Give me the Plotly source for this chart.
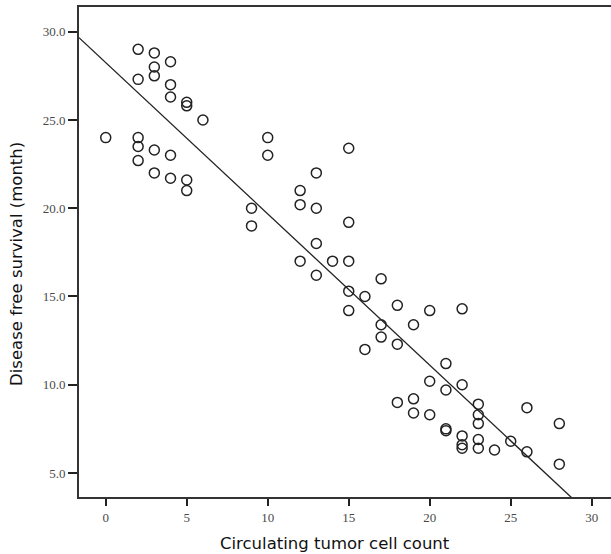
import plotly.graph_objects as go

ctc_count = [2, 3, 4, 3, 2, 3, 4, 4, 5, 5, 6, 0, 2, 2, 3, 4, 2, 3, 4, 5, 5,
             9, 9,
             10, 10, 15, 13, 12, 12, 13, 15, 13, 12, 14, 15, 13, 17, 15, 16, 15, 18, 20, 22, 17, 19, 17, 16, 18,
             21, 20, 22, 21, 18, 19, 23, 26, 19, 20, 23, 23, 28, 21, 21, 22, 22, 22, 23, 23, 24, 25, 26, 28]
dfs_month = [29.0, 28.8, 28.3, 28.0, 27.3, 27.5, 27.0, 26.3, 26.0, 25.8, 25.0, 24.0, 24.0, 23.5, 23.3, 23.0, 22.7, 22.0, 21.7, 21.6, 21.0,
             20.0, 19.0,
             24.0, 23.0, 23.4, 22.0, 21.0, 20.2, 20.0, 19.2, 18.0, 17.0, 17.0, 17.0, 16.2, 16.0, 15.3, 15.0, 14.2, 14.5, 14.2, 14.3, 13.4, 13.4, 12.7, 12.0, 12.3,
             11.2, 10.2, 10.0, 9.7, 9.0, 9.2, 8.9, 8.7, 8.4, 8.3, 8.3, 7.8, 7.8, 7.5, 7.4, 7.1, 6.6, 6.4, 6.9, 6.4, 6.3, 6.8, 6.2, 5.5]

# fitted line
fit_intercept = 28.25
fit_slope = -0.857
fit_x = [-1.65, 31.2]

x_ticks = [0, 5, 10, 15, 20, 25, 30]
y_ticks = [5.0, 10.0, 15.0, 20.0, 25.0, 30.0]

fit_y = [fit_intercept + fit_slope * v for v in fit_x]

fig = go.Figure()
fig.add_trace(go.Scatter(x=fit_x, y=fit_y, mode="lines",
                         line=dict(color="#222222", width=1.3), hoverinfo="skip"))
fig.add_trace(go.Scatter(x=ctc_count, y=dfs_month, mode="markers",
                         marker=dict(symbol="circle-open", size=10, color="#222222",
                                     line=dict(width=1.5, color="#222222"))))

tick_font = dict(family="Liberation Serif, Times New Roman, serif", size=13, color="#4a4a4a")
title_font = dict(family="DejaVu Sans, Verdana, sans-serif", size=16.5, color="#111111")
fig.update_layout(
    width=611, height=554,
    margin=dict(l=79, r=0, t=7, b=57),
    paper_bgcolor="white", plot_bgcolor="white",
    showlegend=False,
    xaxis=dict(range=[-1.65, 31.19], tickvals=x_ticks, ticktext=[str(v) for v in x_ticks],
               showgrid=False, zeroline=False, showline=True, linecolor="#333333", linewidth=2,
               mirror=True, ticks="outside", ticklen=7, tickwidth=2, tickcolor="#222222",
               tickfont=tick_font),
    yaxis=dict(range=[3.64, 31.4], tickvals=y_ticks, ticktext=[f"{v:.1f}" for v in y_ticks],
               showgrid=False, zeroline=False, showline=True, linecolor="#333333", linewidth=2,
               ticks="outside", ticklen=9, tickwidth=2, tickcolor="#222222",
               tickfont=tick_font),
    annotations=[
        dict(text="Circulating tumor cell count", xref="paper", yref="paper",
             x=(335 - 79) / 532, y=-(543 - 497) / 490, xanchor="center", yanchor="middle",
             showarrow=False, font=title_font),
        dict(text="Disease free survival (month)", xref="paper", yref="paper",
             x=-(79 - 16) / 532, y=(497 - 264) / 490, xanchor="center", yanchor="middle", textangle=-90,
             showarrow=False, font=title_font),
    ],
)
fig.write_html("out.html", config={"displayModeBar": False},
               post_script="document.body.style.margin='0';document.body.style.overflow='hidden';")
